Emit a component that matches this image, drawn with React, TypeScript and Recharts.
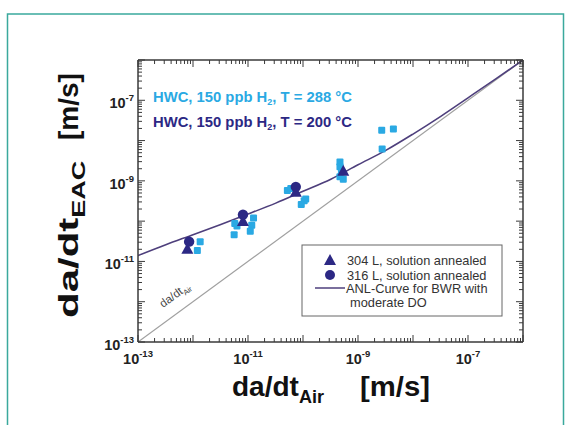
import React from "react";
import { ComposedChart, XAxis, YAxis, Line, Scatter } from "recharts";

// ---- data ----
const majorTicks = [1e-13, 1e-12, 1e-11, 1e-10, 1e-9, 1e-8, 1e-7, 1e-6];
const labelExponents = [-13, -11, -9, -7];
const minorMultipliers = [2, 3, 4, 5, 6, 7, 8, 9];

// light blue squares: HWC, 150 ppb H2, T = 288 °C
const sq288X = [1.35e-12, 1.2e-12, 5.75e-12, 5.6e-12, 1.26e-11, 1.17e-11, 1.1e-11, 6.3e-12, 5.2e-11, 6.0e-11, 1.12e-10, 1.05e-10, 9.3e-11, 4.7e-10, 4.7e-10, 4.7e-10, 5.4e-10, 5.0e-10, 2.7e-9, 4.4e-9, 2.75e-9];
const sq288Y = [3.1e-11, 1.86e-11, 8.7e-11, 4.6e-11, 1.2e-10, 7.9e-11, 5.6e-11, 7.6e-11, 5.75e-10, 6.5e-10, 3.55e-10, 3.2e-10, 2.6e-10, 2.95e-9, 2.24e-9, 1.26e-9, 1.1e-9, 1.66e-9, 1.8e-8, 1.95e-8, 6.2e-9];

// 304 L, solution annealed (T = 200 °C)
const triX = [7.9e-13, 8.1e-12, 7.4e-11, 5.4e-10];
const triY = [2.0e-11, 9.8e-11, 5.2e-10, 1.74e-9];

// 316 L, solution annealed (T = 200 °C)
const cirX = [8.5e-13, 8.1e-12, 7.4e-11];
const cirY = [3.1e-11, 1.45e-10, 7.1e-10];

// ANL curve for BWR with moderate DO
const anlX = [1e-13, 3.2e-13, 1e-12, 3.2e-12, 1e-11, 3.2e-11, 1e-10, 3.2e-10, 1e-9, 3.2e-9, 1e-8, 3.2e-8, 1e-7, 3.2e-7, 1e-6];
const anlY = [1.4e-11, 2.6e-11, 4.6e-11, 8.3e-11, 1.5e-10, 2.8e-10, 5.5e-10, 1.1e-9, 2.5e-9, 5.7e-9, 1.45e-8, 4.0e-8, 1.15e-7, 3.4e-7, 1.0e-6];

// da/dt Air reference line
const airX = [1e-13, 1e-6];
const airY = [1e-13, 1e-6];

const DOMAIN: [number, number] = [1e-13, 1e-6];

const zip = (xs: number[], ys: number[]) => xs.map((x, i) => ({ x, y: ys[i] }));
const sq288 = zip(sq288X, sq288Y);
const tri = zip(triX, triY);
const cir = zip(cirX, cirY);
const anl = zip(anlX, anlY);
const air = zip(airX, airY);

const allTicks: number[] = [];
majorTicks.forEach((m, i) => {
  allTicks.push(m);
  if (i < majorTicks.length - 1) minorMultipliers.forEach((k) => allTicks.push(m * k));
});

const FONT = '"Liberation Sans", Arial, Helvetica, sans-serif';
const LIGHT = "#2aa9e3";
const DARK = "#2c2884";
const CURVE = "#4e3f7c";
const AXIS = "#3a3a3a";

const info = (v: number) => {
  const l = Math.log10(v);
  const e = Math.round(l);
  return { e, major: Math.abs(l - e) < 1e-6 };
};

const Label10 = ({ x, y, e, anchor }: any) => (
  <text x={x} y={y} textAnchor={anchor} fontFamily={FONT} fontWeight="bold" fontSize={14.5} fill="#222">
    10
    <tspan dy={-7} fontSize={9.5}>{e}</tspan>
  </text>
);

const BottomTick = (p: any) => {
  const { x, y, payload } = p;
  const { e, major } = info(payload.value);
  return (
    <g>
      <line x1={x} x2={x} y1={y} y2={y - (major ? 7 : 4)} stroke={AXIS} strokeWidth={1} />
      {major && labelExponents.includes(e) ? <Label10 x={x} y={y + 22} e={e} anchor="middle" /> : null}
    </g>
  );
};

const TopTick = (p: any) => {
  const { x, y, payload } = p;
  const { major } = info(payload.value);
  return <line x1={x} x2={x} y1={y} y2={y + (major ? 7 : 4)} stroke={AXIS} strokeWidth={1} />;
};

const LeftTick = (p: any) => {
  const { x, y, payload } = p;
  const { e, major } = info(payload.value);
  return (
    <g>
      <line x1={x} x2={x + (major ? 7 : 4)} y1={y} y2={y} stroke={AXIS} strokeWidth={1} />
      {major && labelExponents.includes(e) ? <Label10 x={x - 4} y={y + 8} e={e} anchor="end" /> : null}
    </g>
  );
};

const RightTick = (p: any) => {
  const { x, y, payload } = p;
  const { major } = info(payload.value);
  return <line x1={x} x2={x - (major ? 7 : 4)} y1={y} y2={y} stroke={AXIS} strokeWidth={1} />;
};

const SquareShape = (p: any) => (
  <rect x={p.cx - 3.5} y={p.cy - 3.5} width={7} height={7} rx={1} fill={LIGHT} />
);
const TriShape = (p: any) => (
  <path d={`M${p.cx},${p.cy - 6.5} L${p.cx + 6},${p.cy + 4.5} L${p.cx - 6},${p.cy + 4.5} Z`} fill={DARK} />
);
const CircleShape = (p: any) => <circle cx={p.cx} cy={p.cy} r={5.2} fill={DARK} />;

export default function App() {
  return (
    <div style={{ position: "fixed", left: 0, top: 0, width: 571, height: 425, background: "#fff" }}>
      <ComposedChart width={571} height={425} margin={{ top: 59, right: 47, bottom: 43, left: 78 }}>
        <XAxis
          xAxisId="b"
          dataKey="x"
          type="number"
          scale="log"
          domain={DOMAIN}
          allowDataOverflow
          ticks={allTicks}
          interval={0}
          orientation="bottom"
          height={40}
          tickSize={0}
          tickMargin={0}
          tickLine={false}
          tick={<BottomTick />}
          axisLine={{ stroke: AXIS, strokeWidth: 1.5 }}
        />
        <XAxis
          xAxisId="t"
          dataKey="x"
          type="number"
          scale="log"
          domain={DOMAIN}
          allowDataOverflow
          ticks={allTicks}
          interval={0}
          orientation="top"
          height={1}
          tickSize={0}
          tickMargin={0}
          tickLine={false}
          tick={<TopTick />}
          axisLine={{ stroke: AXIS, strokeWidth: 1.5 }}
        />
        <YAxis
          yAxisId="l"
          dataKey="y"
          type="number"
          scale="log"
          domain={DOMAIN}
          allowDataOverflow
          ticks={allTicks}
          interval={0}
          orientation="left"
          width={60}
          tickSize={0}
          tickMargin={0}
          tickLine={false}
          tick={<LeftTick />}
          axisLine={{ stroke: AXIS, strokeWidth: 1.5 }}
        />
        <YAxis
          yAxisId="r"
          dataKey="y"
          type="number"
          scale="log"
          domain={DOMAIN}
          allowDataOverflow
          ticks={allTicks}
          interval={0}
          orientation="right"
          width={1}
          tickSize={0}
          tickMargin={0}
          tickLine={false}
          tick={<RightTick />}
          axisLine={{ stroke: AXIS, strokeWidth: 1.5 }}
        />
        <Line xAxisId="b" yAxisId="l" data={air} dataKey="y" type="linear" stroke="#a0a0a0" strokeWidth={1.2} dot={false} isAnimationActive={false} />
        <Line xAxisId="b" yAxisId="l" data={anl} dataKey="y" type="monotone" stroke={CURVE} strokeWidth={1.6} dot={false} isAnimationActive={false} />
        <Scatter xAxisId="b" yAxisId="l" data={sq288} dataKey="y" shape={<SquareShape />} isAnimationActive={false} />
        <Scatter xAxisId="b" yAxisId="l" data={tri} dataKey="y" shape={<TriShape />} isAnimationActive={false} />
        <Scatter xAxisId="b" yAxisId="l" data={cir} dataKey="y" shape={<CircleShape />} isAnimationActive={false} />
      </ComposedChart>
      <svg width={571} height={425} style={{ position: "absolute", left: 0, top: 0, pointerEvents: "none" }}>
        <path d="M7.5,430 L7.5,14 L563.5,14 L563.5,430" fill="none" stroke="#3aa99d" strokeWidth={1.5} />
        {/* annotations */}
        <text x={153} y={102} fontFamily={FONT} fontWeight="bold" fontSize={14.8} fill={LIGHT}>
          HWC, 150 ppb H<tspan dy={3} fontSize={9}>2</tspan><tspan dy={-3}>, T = 288 °C</tspan>
        </text>
        <text x={153} y={127} fontFamily={FONT} fontWeight="bold" fontSize={14.8} fill={DARK}>
          HWC, 150 ppb H<tspan dy={3} fontSize={9}>2</tspan><tspan dy={-3}>, T = 200 °C</tspan>
        </text>
        <text x={163} y={308} transform="rotate(-36 163 308)" fontFamily={FONT} fontSize={11.5} fill="#444">
          da/dt<tspan dy={3} fontSize={7.5}>Air</tspan>
        </text>
        {/* legend */}
        <rect x={302} y={245} width={200} height={71} fill="#fff" stroke="#666" strokeWidth={1} />
        <path d="M330,254 L336,265 L324,265 Z" fill={DARK} />
        <text x={347} y={264.5} fontFamily={FONT} fontSize={12.8} fill="#333">304 L, solution annealed</text>
        <circle cx={330} cy={275} r={5} fill={DARK} />
        <text x={347} y={279.5} fontFamily={FONT} fontSize={12.8} fill="#333">316 L, solution annealed</text>
        <line x1={315} x2={345} y1={288} y2={288} stroke={CURVE} strokeWidth={1.5} />
        <text x={346} y={293} fontFamily={FONT} fontSize={12.8} fill="#333">ANL-Curve for BWR with</text>
        <text x={350} y={307} fontFamily={FONT} fontSize={12.8} fill="#333">moderate DO</text>
        {/* axis titles */}
        <text x={232} y={396} fontFamily={FONT} fontWeight="bold" fontSize={28} fill="#111">
          da/dt<tspan dy={7} fontSize={18}>Air</tspan>
        </text>
        <text x={360} y={396} fontFamily={FONT} fontWeight="bold" fontSize={28} fill="#111" textLength={70} lengthAdjust="spacingAndGlyphs">[m/s]</text>
        <text x={0} y={0} transform="translate(78 318) rotate(-90) scale(1.5 1)" fontFamily={FONT} fontWeight="bold" fontSize={28} fill="#111">
          da/dt<tspan dy={7} fontSize={18}>EAC</tspan>
        </text>
        <text x={78} y={140} transform="rotate(-90 78 140)" fontFamily={FONT} fontWeight="bold" fontSize={28} fill="#111">[m/s]</text>
      </svg>
    </div>
  );
}
